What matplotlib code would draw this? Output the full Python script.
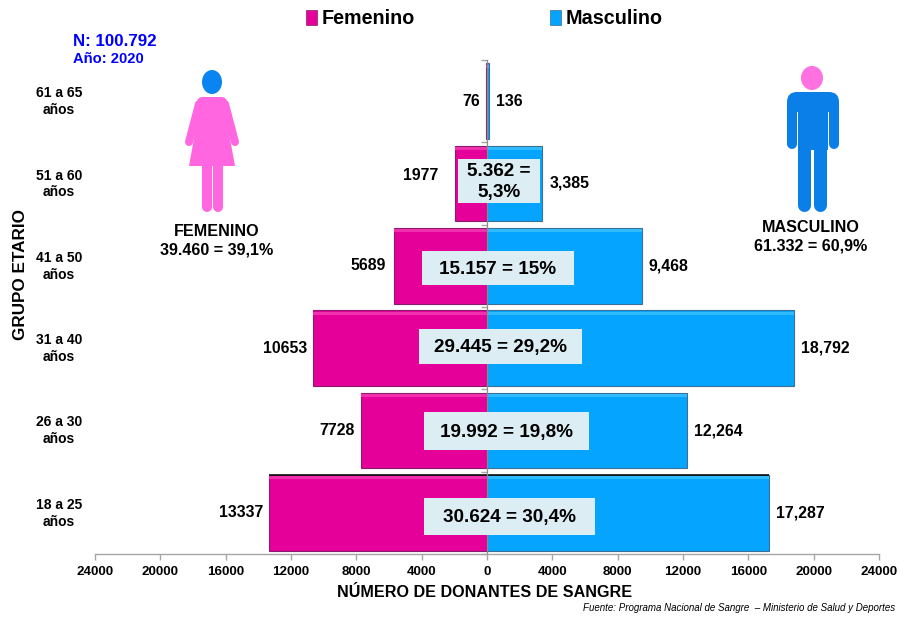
import numpy as np
import matplotlib
matplotlib.use("Agg")
import matplotlib.pyplot as plt
from matplotlib.patches import Rectangle, Ellipse, Polygon, FancyBboxPatch
from matplotlib.lines import Line2D
from matplotlib.transforms import ScaledTranslation

age_groups = ["18 a 25\naños", "26 a 30\naños", "31 a 40\naños", "41 a 50\naños", "51 a 60\naños", "61 a 65\naños"]
female = [13337, 7728, 10653, 5689, 1977, 76]
male = [17287, 12264, 18792, 9468, 3385, 136]
male_labels = ["17,287", "12,264", "18,792", "9,468", "3,385", "136"]
x_ticks = [-24000, -20000, -16000, -12000, -8000, -4000, 0, 4000, 8000, 12000, 16000, 20000, 24000]
x_tick_labels = ["24000", "20000", "16000", "12000", "8000", "4000", "0", "4000", "8000", "12000", "16000", "20000", "24000"]
box_labels = ["30.624 = 30,4%", "19.992 = 19,8%", "29.445 = 29,2%", "15.157 = 15%", "5.362 =\n5,3%"]

W, H = 912, 618
PINK, BLUE = "#E6009A", "#05A5FF"
plt.rcParams["font.family"] = ["Liberation Sans", "DejaVu Sans"]
plt.rcParams["font.weight"] = "bold"
plt.rcParams["axes.labelweight"] = "bold"

fig = plt.figure(figsize=(W / 100, H / 100), dpi=100)
L, R, T, B = 95, 879, 60, 554
ax = fig.add_axes([L / W, 1 - B / H, (R - L) / W, (B - T) / H])
ypos = np.arange(len(age_groups))
bar_h = 0.915

bf = ax.barh(ypos, -np.array(female), height=bar_h, color=PINK, edgecolor="#8a1c6c", linewidth=0.8, zorder=2)
bm = ax.barh(ypos, male, height=bar_h, color=BLUE, edgecolor="#3a6f96", linewidth=0.8, zorder=2)
# soft highlight along the top of every bar
for bars, light in ((bf, "#F030AE"), (bm, "#30BAFF")):
    for b in bars:
        ax.add_patch(Rectangle((b.get_x(), b.get_y() + b.get_height() * 0.945), b.get_width(),
                               b.get_height() * 0.04, color=light, lw=0, zorder=2.5))
# dark top edge on the lowest bar pair
ax.hlines(bf[0].get_y() + bar_h, -female[0], male[0], color="black", lw=1.1, zorder=3)

ax.set_xlim(-24000, 24000)
ax.set_ylim(-0.5, 5.5)
ax.set_xticks(x_ticks, x_tick_labels, fontsize=9.6)
ax.set_yticks(ypos, age_groups, fontsize=10, ma="center", linespacing=1.25)
ax.tick_params(axis="y", length=0, pad=9.3)
ax.tick_params(axis="x", length=4.5, width=1, color="#a6a6a6", pad=4)
for lab in ax.get_yticklabels():
    lab.set_transform(lab.get_transform() + ScaledTranslation(0, 2.5 / 100, fig.dpi_scale_trans))
for s in ("top", "right", "left"):
    ax.spines[s].set_visible(False)
ax.spines["bottom"].set_color("#a6a6a6")
ax.spines["bottom"].set_linewidth(1)
ax.axvline(0, color="#8c8c8c", lw=0.9, zorder=3)
ax.plot(np.zeros(len(ypos) + 1), np.arange(len(ypos) + 1) - 0.5, ls="none",
        marker=0, ms=4, color="#a6a6a6", mew=1, zorder=1, clip_on=False)
ax.set_xlabel("NÚMERO DE DONANTES DE SANGRE", fontsize=11.6, labelpad=5.5, x=0.4975)

lf = ax.bar_label(bf, labels=[str(v) for v in female], padding=4, fontsize=11.4, zorder=5)
lm = ax.bar_label(bm, labels=male_labels, padding=5, fontsize=11.4, zorder=5)
lf[4].xyann = (lf[4].xyann[0] - 8, 6)
lf[3].xyann = (lf[3].xyann[0] - 2, 0)

# overlay in pixel coordinates for the annotation layer
ov = fig.add_axes([0, 0, 1, 1], facecolor="none")
ov.set_xlim(0, W)
ov.set_ylim(H, 0)
ov.axis("off")

# centre boxes
boxes = [(424, 498, 171, 37), (424, 412, 165, 38), (419, 329, 163, 35), (422, 251, 152, 34), (458, 159, 82, 44)]
for (x, y, w, h), s in zip(boxes, box_labels):
    ov.add_patch(Rectangle((x, y), w, h, color="#DCEDF3", lw=0, zorder=4))
    ov.text(x + w / 2, y + h / 2 + 1, s, ha="center", va="center", fontsize=13.6, ma="center",
            linespacing=1.3, zorder=5)


def limb(x0, y0, x1, y1, w, c):
    ov.add_line(Line2D([x0, x1], [y0, y1], lw=w * 0.72, color=c, solid_capstyle="round", zorder=3))


# female figure
FB, FH = "#FF66E0", "#0A84F0"
ov.add_patch(Ellipse((212, 82), 20, 24, color=FH, lw=0))
ov.add_patch(FancyBboxPatch((197, 97), 30, 14, boxstyle="round,pad=0,rounding_size=6", color=FB, lw=0))
ov.add_patch(Polygon([(201, 100), (223, 100), (235, 166), (189, 166)], color=FB, lw=0))
limb(199, 104, 189, 142, 8, FB)
limb(225, 104, 235, 142, 8, FB)
limb(206.7, 166, 206.7, 207, 10, FB)
limb(217.7, 166, 217.7, 207, 10, FB)

# male figure
MB, MH = "#0A7FE8", "#FF70E0"
ov.add_patch(Ellipse((812, 78), 22, 24, color=MH, lw=0))
ov.add_patch(FancyBboxPatch((787, 92), 52, 20, boxstyle="round,pad=0,rounding_size=10", color=MB, lw=0))
ov.add_patch(Rectangle((798, 100), 30, 50, color=MB, lw=0))
limb(792, 105, 792, 144, 10, MB)
limb(834, 105, 834, 144, 10, MB)
limb(804.5, 148, 804.5, 205, 13, MB)
limb(820.5, 148, 820.5, 205, 13, MB)

ov.text(217, 231, "FEMENINO", ha="center", va="center", fontsize=11.6)
ov.text(217, 250, "39.460 = 39,1%", ha="center", va="center", fontsize=11.6)
ov.text(811, 227, "MASCULINO", ha="center", va="center", fontsize=11.6)
ov.text(811, 246, "61.332 = 60,9%", ha="center", va="center", fontsize=11.6)
ov.text(73, 41, "N: 100.792", ha="left", va="center", fontsize=12.2, color="#0000FF")
ov.text(73, 59, "Año: 2020", ha="left", va="center", fontsize=10.6, color="#0000FF")
ov.text(21, 275, "GRUPO ETARIO", ha="center", va="center", rotation=90, fontsize=12.3)

ov.text(895, 608, "Fuente: Programa Nacional de Sangre  – Ministerio de Salud y Deportes", ha="right", va="center",
        fontsize=7.0, style="italic", weight="normal")

# legend
leg = ov.legend([Rectangle((0, 0), 1, 1, fc=PINK, ec="#8a1c6c", lw=0.5), Rectangle((0, 0), 1, 1, fc=BLUE, ec="#3a6f96", lw=0.5)],
                ["Femenino", "Masculino"], ncol=2, loc="center", bbox_to_anchor=(484.5 / W, 1 - 19 / H),
                bbox_transform=fig.transFigure, frameon=False, fontsize=14.2, handlelength=0.55, handleheight=0.8,
                handletextpad=0.25, columnspacing=6.85)

fig.savefig("out.png", dpi=100, facecolor="white")
